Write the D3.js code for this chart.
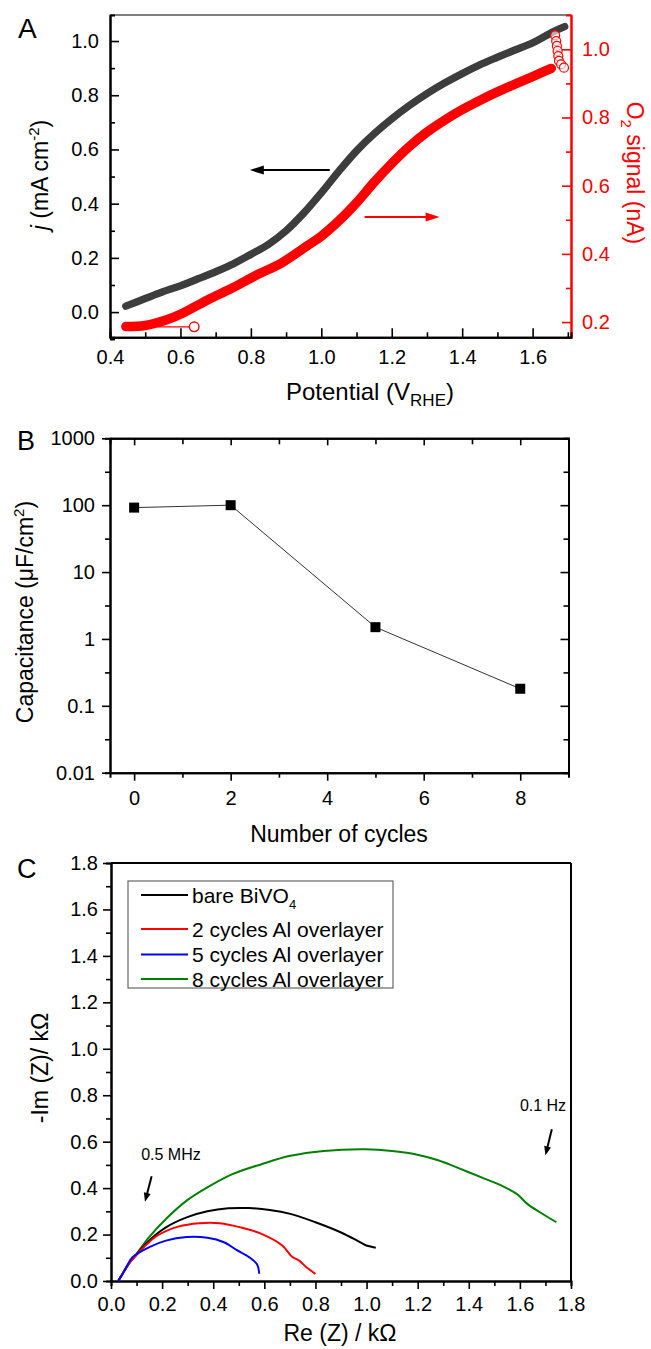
<!DOCTYPE html>
<html>
<head>
<meta charset="utf-8">
<script src="https://cdn.jsdelivr.net/npm/d3@7"></script>
<style>
  body { margin: 0; background: #fff; }
  svg text { font-family: "Liberation Sans", Arial, sans-serif; }
</style>
</head>
<body>
<div id="figure"></div>
<script>
// ---- panel A: photocurrent (left axis) and O2 signal (right axis) vs potential
var aPotential = [0.445, 0.50, 0.55, 0.606, 0.65, 0.70, 0.75, 0.80, 0.85, 0.90, 0.95, 1.00, 1.05, 1.10, 1.15, 1.20, 1.25, 1.30, 1.35, 1.40, 1.45, 1.50, 1.55, 1.60, 1.658, 1.691];
var aCurrent   = [0.022, 0.05, 0.075, 0.10, 0.123, 0.149, 0.178, 0.213, 0.25, 0.30, 0.365, 0.44, 0.52, 0.595, 0.658, 0.713, 0.762, 0.806, 0.845, 0.88, 0.912, 0.94, 0.967, 0.993, 1.034, 1.053];

var aO2Potential = [0.445, 0.50, 0.559, 0.606, 0.677, 0.747, 0.818, 0.888, 0.959, 1.00, 1.05, 1.10, 1.15, 1.20, 1.25, 1.30, 1.35, 1.40, 1.45, 1.50, 1.55, 1.60, 1.653];
var aO2Signal    = [0.187, 0.19, 0.206, 0.226, 0.265, 0.30, 0.339, 0.374, 0.423, 0.452, 0.497, 0.55, 0.61, 0.665, 0.715, 0.757, 0.792, 0.823, 0.85, 0.875, 0.898, 0.92, 0.944];

var aO2EndPotential = [1.664, 1.667, 1.669, 1.671, 1.673, 1.675, 1.681, 1.689];
var aO2EndSignal    = [1.041, 1.024, 1.01, 0.995, 0.98, 0.966, 0.956, 0.946];

var aXTicks = [0.4, 0.6, 0.8, 1.0, 1.2, 1.4, 1.6];
var aXMinor = [0.5, 0.7, 0.9, 1.1, 1.3, 1.5, 1.7];
var aYTicks = [0.0, 0.2, 0.4, 0.6, 0.8, 1.0];
var aYMinor = [-0.1, 0.1, 0.3, 0.5, 0.7, 0.9];
var aY2Ticks = [0.2, 0.4, 0.6, 0.8, 1.0];
var aY2Minor = [0.3, 0.5, 0.7, 0.9];

// ---- panel B: capacitance vs number of cycles
var bCycles = [0, 2, 5, 8];
var bCapacitance = [92, 100, 1.5, 0.18];
var bXTicks = [0, 2, 4, 6, 8];
var bXMinor = [1, 3, 5, 7];
var bYTicks = [0.01, 0.1, 1, 10, 100, 1000];
var bYMinor = [0.0316, 0.316, 3.16, 31.6, 316];

// ---- panel C: Nyquist plots
var cSeriesNames = ["bare BiVO4", "2 cycles Al overlayer", "5 cycles Al overlayer", "8 cycles Al overlayer"];
var cBareRe = [0.028, 0.045, 0.07, 0.10, 0.15, 0.215, 0.296, 0.377, 0.459, 0.54, 0.621, 0.702, 0.80, 0.898, 0.963, 0.995, 1.036];
var cBareIm = [0.0, 0.03, 0.075, 0.115, 0.175, 0.231, 0.274, 0.30, 0.313, 0.314, 0.306, 0.289, 0.253, 0.21, 0.174, 0.155, 0.143];
var c2Re = [0.028, 0.045, 0.07, 0.10, 0.14, 0.182, 0.263, 0.345, 0.426, 0.507, 0.589, 0.67, 0.71, 0.735, 0.767, 0.80];
var c2Im = [0.0, 0.03, 0.075, 0.112, 0.158, 0.196, 0.234, 0.249, 0.249, 0.231, 0.203, 0.153, 0.103, 0.089, 0.057, 0.031];
var c5Re = [0.028, 0.045, 0.065, 0.085, 0.15, 0.215, 0.296, 0.377, 0.442, 0.491, 0.54, 0.572, 0.58];
var c5Im = [0.0, 0.03, 0.07, 0.103, 0.146, 0.174, 0.189, 0.186, 0.167, 0.134, 0.103, 0.071, 0.031];
var c8Re = [0.028, 0.045, 0.07, 0.10, 0.15, 0.215, 0.296, 0.377, 0.475, 0.589, 0.702, 0.833, 0.995, 1.10, 1.19, 1.28, 1.353, 1.45, 1.53, 1.589, 1.63, 1.678, 1.743];
var c8Im = [0.0, 0.03, 0.075, 0.117, 0.19, 0.267, 0.346, 0.403, 0.46, 0.503, 0.539, 0.56, 0.567, 0.56, 0.546, 0.52, 0.489, 0.446, 0.41, 0.374, 0.331, 0.296, 0.253];
var cTicks = [0.0, 0.2, 0.4, 0.6, 0.8, 1.0, 1.2, 1.4, 1.6, 1.8];
var cMinor = [0.1, 0.3, 0.5, 0.7, 0.9, 1.1, 1.3, 1.5, 1.7];

var FONT = "Liberation Sans, Arial, sans-serif";

function zip(a, b){
  return a.map(function(d, i){ return [d, b[i]]; });
}

function drawAxis(parent, axis, transform, color){
  var g = parent.append("g")
      .attr("transform", transform)
      .call(axis)
      .attr("font-size", 20)
      .attr("font-family", FONT);
  g.select(".domain").attr("stroke", color).attr("stroke-width", 2);
  g.selectAll(".tick line").attr("stroke", color).attr("stroke-width", 1.6);
  g.selectAll(".tick text").attr("fill", color);
  return g;
}

function arrow(parent, x1, y1, x2, y2, color, width, len, half){
  var dx = x2 - x1, dy = y2 - y1;
  var L = Math.sqrt(dx*dx + dy*dy);
  var ux = dx / L, uy = dy / L;
  var bx = x2 - ux*len, by = y2 - uy*len;
  parent.append("line")
      .attr("x1", x1).attr("y1", y1)
      .attr("x2", bx + ux*2).attr("y2", by + uy*2)
      .attr("stroke", color)
      .attr("stroke-width", width);
  parent.append("polygon")
      .attr("points", [
        [x2, y2],
        [bx - uy*half, by + ux*half],
        [bx + uy*half, by - ux*half]
      ].map(function(p){ return p.join(","); }).join(" "))
      .attr("fill", color);
}

function init(){
  var w = 651;
  var h = 1349;

  var svg = d3.select("#figure")
      .append("svg")
      .attr("width", w)
      .attr("height", h);

  svg.append("rect").attr("width", w).attr("height", h).attr("fill", "#fff");

  // =============== panel A ===============
  var xA = d3.scaleLinear().domain([0.4, 1.709]).range([110, 571]);
  var yA = d3.scaleLinear().domain([-0.093, 1.096]).range([337.3, 15]);
  var yA2 = d3.scaleLinear().domain([0.1554, 1.1006]).range([337.3, 15]);

  var A = svg.append("g");

  A.append("line")
      .attr("x1", 110).attr("x2", 571)
      .attr("y1", 15).attr("y2", 15)
      .attr("stroke", "#000").attr("stroke-width", 1.2);

  drawAxis(A, d3.axisLeft(yA).tickValues(aYMinor).tickSize(-5).tickFormat(""), "translate(110,0)", "#000");
  drawAxis(A, d3.axisLeft(yA).tickValues(aYTicks).tickSizeInner(-9).tickSizeOuter(0).tickPadding(11).tickFormat(d3.format(".1f")), "translate(110,0)", "#000");

  drawAxis(A, d3.axisRight(yA2).tickValues(aY2Minor).tickSize(-5).tickFormat(""), "translate(571,0)", "#f00");
  drawAxis(A, d3.axisRight(yA2).tickValues(aY2Ticks).tickSizeInner(-9).tickSizeOuter(0).tickPadding(11).tickFormat(d3.format(".1f")), "translate(571,0)", "#f00");

  drawAxis(A, d3.axisBottom(xA).tickValues(aXMinor).tickSize(-5).tickFormat(""), "translate(0,337.3)", "#000");
  drawAxis(A, d3.axisBottom(xA).tickValues(aXTicks).tickSizeInner(-9).tickSizeOuter(0).tickPadding(13).tickFormat(d3.format(".1f")), "translate(0,337.3)", "#000");

  var lineA = d3.line()
      .x(function(d){ return xA(d[0]); })
      .y(function(d){ return yA(d[1]); })
      .curve(d3.curveCatmullRom.alpha(0.5));

  var lineA2 = d3.line()
      .x(function(d){ return xA(d[0]); })
      .y(function(d){ return yA2(d[1]); })
      .curve(d3.curveCatmullRom.alpha(0.5));

  A.append("path")
      .datum(zip(aPotential, aCurrent))
      .attr("d", lineA)
      .attr("fill", "none")
      .attr("stroke", "#3d3d3d")
      .attr("stroke-width", 7.5)
      .attr("stroke-linecap", "round");

  A.append("path")
      .datum(zip(aO2Potential, aO2Signal))
      .attr("d", lineA2)
      .attr("fill", "none")
      .attr("stroke", "#f00")
      .attr("stroke-width", 9.5)
      .attr("stroke-linecap", "round");

  A.selectAll("circle.o2end")
      .data(zip(aO2EndPotential, aO2EndSignal))
      .enter()
      .append("circle")
      .attr("class", "o2end")
      .attr("cx", function(d){ return xA(d[0]); })
      .attr("cy", function(d){ return yA2(d[1]); })
      .attr("r", 4.5)
      .attr("fill", "#fff")
      .attr("fill-opacity", 0.6)
      .attr("stroke", "#f00")
      .attr("stroke-width", 1.2);

  // little line + symbol marker near the start of the O2 trace
  A.append("line")
      .attr("x1", xA(0.535)).attr("x2", xA(0.625))
      .attr("y1", yA2(0.186)).attr("y2", yA2(0.186))
      .attr("stroke", "#f00").attr("stroke-width", 1.2);
  A.append("circle")
      .attr("cx", xA(0.639)).attr("cy", yA2(0.186))
      .attr("r", 4.8)
      .attr("fill", "#fff")
      .attr("stroke", "#f00")
      .attr("stroke-width", 1.4);

  arrow(A, xA(1.024), yA(0.524), xA(0.797), yA(0.524), "#000", 2, 14, 4.5);
  arrow(A, xA(1.123), yA2(0.508), xA(1.336), yA2(0.508), "#f00", 2, 14, 4.5);

  A.append("text")
      .attr("x", 18).attr("y", 38)
      .attr("font-size", 28)
      .text("A");

  var aYLabel = A.append("text")
      .attr("transform", "translate(48,175) rotate(-90)")
      .attr("text-anchor", "middle")
      .attr("font-size", 23);
  aYLabel.append("tspan").attr("font-style", "italic").text("j");
  aYLabel.append("tspan").text(" (mA cm");
  aYLabel.append("tspan").attr("font-size", 15).attr("dy", -9).text("-2");
  aYLabel.append("tspan").attr("dy", 9).text(")");

  var aY2Label = A.append("text")
      .attr("transform", "translate(627,173) rotate(90)")
      .attr("text-anchor", "middle")
      .attr("fill", "#f00")
      .attr("font-size", 23);
  aY2Label.append("tspan").text("O");
  aY2Label.append("tspan").attr("font-size", 15).attr("dy", 6).text("2");
  aY2Label.append("tspan").attr("dy", -6).text(" signal (nA)");

  var aXLabel = A.append("text")
      .attr("x", 370).attr("y", 400)
      .attr("text-anchor", "middle")
      .attr("font-size", 24);
  aXLabel.append("tspan").text("Potential (V");
  aXLabel.append("tspan").attr("font-size", 17).attr("dy", 6).text("RHE");
  aXLabel.append("tspan").attr("dy", -6).text(")");

  // =============== panel B ===============
  var xB = d3.scaleLinear().domain([-0.5, 9]).range([110, 568.5]);
  var yB = d3.scaleLog().domain([0.01, 1000]).range([772.7, 438.3]);

  var B = svg.append("g");

  drawAxis(B, d3.axisLeft(yB).tickValues(bYMinor).tickSize(5).tickFormat(""), "translate(110,0)", "#000");
  drawAxis(B, d3.axisLeft(yB).tickValues(bYTicks).tickSizeInner(8).tickSizeOuter(0).tickPadding(7).tickFormat(function(d){ return String(d); }), "translate(110,0)", "#000");

  drawAxis(B, d3.axisRight(yB).tickValues(bYMinor).tickSize(-5).tickFormat(""), "translate(568.5,0)", "#000");
  drawAxis(B, d3.axisRight(yB).tickValues(bYTicks).tickSizeInner(-8).tickSizeOuter(0).tickFormat(""), "translate(568.5,0)", "#000");

  drawAxis(B, d3.axisBottom(xB).tickValues(bXMinor).tickSize(5).tickFormat(""), "translate(0,772.7)", "#000");
  drawAxis(B, d3.axisBottom(xB).tickValues(bXTicks).tickSizeInner(8).tickSizeOuter(0).tickPadding(10), "translate(0,772.7)", "#000");

  drawAxis(B, d3.axisTop(xB).tickValues(bXMinor).tickSize(-6).tickFormat(""), "translate(0,438.3)", "#000");
  drawAxis(B, d3.axisTop(xB).tickValues(bXTicks).tickSizeInner(-7).tickSizeOuter(0).tickFormat(""), "translate(0,438.3)", "#000");

  var lineB = d3.line()
      .x(function(d){ return xB(d[0]); })
      .y(function(d){ return yB(d[1]); });

  B.append("path")
      .datum(zip(bCycles, bCapacitance))
      .attr("d", lineB)
      .attr("fill", "none")
      .attr("stroke", "#333")
      .attr("stroke-width", 1);

  B.selectAll("rect.pt")
      .data(zip(bCycles, bCapacitance))
      .enter()
      .append("rect")
      .attr("class", "pt")
      .attr("x", function(d){ return xB(d[0]) - 5; })
      .attr("y", function(d){ return yB(d[1]) - 5; })
      .attr("width", 10)
      .attr("height", 10)
      .attr("fill", "#000");

  B.append("text")
      .attr("x", 17).attr("y", 450)
      .attr("font-size", 27)
      .text("B");

  var bYLabel = B.append("text")
      .attr("transform", "translate(33,612) rotate(-90)")
      .attr("text-anchor", "middle")
      .attr("font-size", 23);
  bYLabel.append("tspan").text("Capacitance (\u03BCF/cm");
  bYLabel.append("tspan").attr("font-size", 15).attr("dy", -9).text("2");
  bYLabel.append("tspan").attr("dy", 9).text(")");

  B.append("text")
      .attr("x", 339).attr("y", 842)
      .attr("text-anchor", "middle")
      .attr("font-size", 23)
      .text("Number of cycles");

  // =============== panel C ===============
  var xC = d3.scaleLinear().domain([0, 1.8]).range([111, 571]);
  var yC = d3.scaleLinear().domain([0, 1.8]).range([1281, 863]);

  var C = svg.append("g");

  C.append("line")
      .attr("x1", 111).attr("x2", 571)
      .attr("y1", 863).attr("y2", 863)
      .attr("stroke", "#000").attr("stroke-width", 2);
  C.append("line")
      .attr("x1", 571).attr("x2", 571)
      .attr("y1", 863).attr("y2", 1281)
      .attr("stroke", "#000").attr("stroke-width", 2);

  drawAxis(C, d3.axisLeft(yC).tickValues(cMinor).tickSize(5).tickFormat(""), "translate(111,0)", "#000");
  drawAxis(C, d3.axisLeft(yC).tickValues(cTicks).tickSizeInner(8).tickSizeOuter(0).tickPadding(5).tickFormat(d3.format(".1f")), "translate(111,0)", "#000");
  drawAxis(C, d3.axisBottom(xC).tickValues(cMinor).tickSize(5).tickFormat(""), "translate(0,1281)", "#000");
  drawAxis(C, d3.axisBottom(xC).tickValues(cTicks).tickSizeInner(8).tickSizeOuter(0).tickPadding(8).tickFormat(d3.format(".1f")), "translate(0,1281)", "#000");

  var lineC = d3.line()
      .x(function(d){ return xC(d[0]); })
      .y(function(d){ return yC(d[1]); })
      .curve(d3.curveCatmullRom.alpha(0.5));

  var cSeries = [
    { pts: zip(cBareRe, cBareIm), color: "#000" },
    { pts: zip(c2Re, c2Im), color: "#f00" },
    { pts: zip(c5Re, c5Im), color: "#00f" },
    { pts: zip(c8Re, c8Im), color: "#008000" }
  ];

  // draw green first so the smaller arcs sit on top near the origin
  [3, 0, 1, 2].forEach(function(k){
    C.append("path")
        .datum(cSeries[k].pts)
        .attr("d", lineC)
        .attr("fill", "none")
        .attr("stroke", cSeries[k].color)
        .attr("stroke-width", 2);
  });

  // legend
  var legend = C.append("g");
  legend.append("rect")
      .attr("x", 128).attr("y", 881)
      .attr("width", 265).attr("height", 107)
      .attr("fill", "#fff")
      .attr("stroke", "#666")
      .attr("stroke-width", 1.2);

  var legendRows = [895, 929, 954.5, 979];
  cSeries.forEach(function(s, i){
    legend.append("line")
        .attr("x1", 141).attr("x2", 188)
        .attr("y1", legendRows[i]).attr("y2", legendRows[i])
        .attr("stroke", s.color)
        .attr("stroke-width", 2);
    var t = legend.append("text")
        .attr("x", 192)
        .attr("y", legendRows[i] + 7.5)
        .attr("font-size", 21);
    if (i === 0) {
      t.append("tspan").text("bare BiVO");
      t.append("tspan").attr("font-size", 13).attr("dy", 6).text("4");
    } else {
      t.text(cSeriesNames[i]);
    }
  });

  C.append("text")
      .attr("x", xC(0.118)).attr("y", 1160)
      .attr("font-size", 16)
      .text("0.5 MHz");
  arrow(C, xC(0.159), yC(0.451), xC(0.133), yC(0.341), "#000", 2, 9, 3.5);

  C.append("text")
      .attr("x", xC(1.60)).attr("y", 1111)
      .attr("font-size", 16)
      .text("0.1 Hz");
  arrow(C, xC(1.725), yC(0.653), xC(1.70), yC(0.541), "#000", 2, 9, 3.5);

  C.append("text")
      .attr("x", 17).attr("y", 878)
      .attr("font-size", 27)
      .text("C");

  C.append("text")
      .attr("transform", "translate(48,1068) rotate(-90)")
      .attr("text-anchor", "middle")
      .attr("font-size", 23)
      .text("-Im (Z)/ k\u03A9");

  C.append("text")
      .attr("x", 340).attr("y", 1341)
      .attr("text-anchor", "middle")
      .attr("font-size", 23)
      .text("Re (Z) / k\u03A9");
}

window.onload = init;
</script>
</body>
</html>
